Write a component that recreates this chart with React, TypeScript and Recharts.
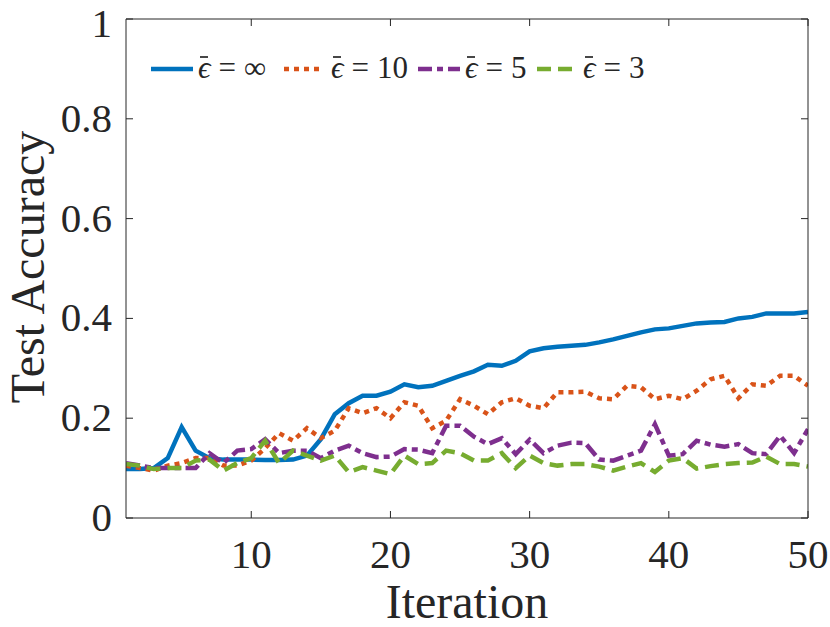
import React from 'react';
import { LineChart, Line, XAxis, YAxis } from 'recharts';

// iteration index 1..50
const iterations = Array.from({ length: 50 }, (_, i) => i + 1);

// eps = inf
const accInf = [
  0.098, 0.098, 0.1, 0.12, 0.182, 0.135, 0.12, 0.117, 0.117, 0.117,
  0.116, 0.116, 0.117, 0.125, 0.158, 0.208, 0.23, 0.245, 0.245, 0.253,
  0.268, 0.262, 0.265, 0.275, 0.285, 0.294, 0.307, 0.305, 0.315, 0.334,
  0.34, 0.343, 0.345, 0.347, 0.352, 0.358, 0.365, 0.372, 0.378, 0.38,
  0.385, 0.39, 0.392, 0.393, 0.4, 0.403, 0.41, 0.41, 0.41, 0.413,
];
// eps = 10
const acc10 = [
  0.105, 0.1, 0.095, 0.105, 0.11, 0.12, 0.12, 0.105, 0.105, 0.115,
  0.14, 0.17, 0.155, 0.18, 0.16, 0.175, 0.22, 0.21, 0.22, 0.2,
  0.232, 0.225, 0.18, 0.195, 0.238, 0.225, 0.208, 0.232, 0.24, 0.225,
  0.22, 0.252, 0.252, 0.253, 0.24, 0.238, 0.265, 0.262, 0.238, 0.245,
  0.238, 0.255, 0.278, 0.285, 0.24, 0.268, 0.265, 0.285, 0.285, 0.265,
];
// eps = 5
const acc5 = [
  0.11, 0.105, 0.1, 0.1, 0.1, 0.1, 0.13, 0.11, 0.135, 0.138,
  0.158, 0.13, 0.135, 0.135, 0.12, 0.135, 0.145, 0.13, 0.122, 0.123,
  0.138, 0.137, 0.13, 0.185, 0.185, 0.163, 0.148, 0.16, 0.128, 0.157,
  0.13, 0.145, 0.151, 0.15, 0.117, 0.115, 0.125, 0.135, 0.188, 0.125,
  0.128, 0.155, 0.147, 0.143, 0.148, 0.13, 0.128, 0.165, 0.13, 0.178,
];
// eps = 3
const acc3 = [
  0.108, 0.105, 0.098, 0.1, 0.1, 0.115, 0.117, 0.095, 0.11, 0.12,
  0.155, 0.11, 0.135, 0.125, 0.115, 0.125, 0.092, 0.102, 0.095, 0.088,
  0.125, 0.108, 0.11, 0.135, 0.13, 0.115, 0.115, 0.13, 0.1, 0.125,
  0.11, 0.105, 0.108, 0.108, 0.103, 0.095, 0.103, 0.11, 0.092, 0.115,
  0.12, 0.099, 0.104, 0.108, 0.11, 0.111, 0.123, 0.108, 0.108, 0.103,
];

const xTicks = [10, 20, 30, 40, 50];
const yTicks = [0, 0.2, 0.4, 0.6, 0.8, 1];
const seriesLabels = ['∞', '10', '5', '3'];

const data = iterations.map((it, i) => ({
  iter: it,
  inf: accInf[i],
  e10: acc10[i],
  e5: acc5[i],
  e3: acc3[i],
}));

const AXIS = '#262626';
const FONT = "'Liberation Serif', 'DejaVu Serif', serif";

const series = [
  { key: 'inf', color: '#0072BD', dash: undefined },
  { key: 'e10', color: '#D95319', dash: '5 5' },
  { key: 'e5', color: '#7E2F8E', dash: '14 5 6 5' },
  { key: 'e3', color: '#77AC30', dash: '14 7' },
];

const LeftTick = (props: any) => {
  const { x, y, payload } = props;
  // keep the top label inside the picture
  const baseline = Math.max(y + 13, 37);
  return (
    <g>
      <line x1={x} x2={x + 7} y1={y} y2={y} stroke={AXIS} strokeWidth={1} />
      <text x={x - 14} y={baseline} textAnchor="end" fontFamily={FONT} fontSize={41} fill={AXIS}>
        {String(payload.value)}
      </text>
    </g>
  );
};

const RightTick = (props: any) => {
  const { x, y } = props;
  return <line x1={x} x2={x - 7} y1={y} y2={y} stroke={AXIS} strokeWidth={1} />;
};

const BottomTick = (props: any) => {
  const { x, y, payload } = props;
  return (
    <g>
      <line x1={x} x2={x} y1={y} y2={y - 7} stroke={AXIS} strokeWidth={1} />
      <text x={x} y={y + 50} textAnchor="middle" fontFamily={FONT} fontSize={41} fill={AXIS}>
        {String(payload.value)}
      </text>
    </g>
  );
};

const TopTick = (props: any) => {
  const { x, y } = props;
  return <line x1={x} x2={x} y1={y} y2={y + 7} stroke={AXIS} strokeWidth={1} />;
};

// legend sample positions
const legendItems = [
  { x1: 151, x2: 193, tx: 198 },
  { x1: 284, x2: 323, tx: 331 },
  { x1: 418, x2: 460, tx: 465 },
  { x1: 537, x2: 578, tx: 583 },
];

const LegendOverlay = () => (
  <svg width={830} height={627} style={{ position: 'absolute', left: 0, top: 0, pointerEvents: 'none' }}>
    {legendItems.map((it, i) => (
      <g key={seriesLabels[i]}>
        <line
          x1={it.x1}
          x2={it.x2}
          y1={69}
          y2={69}
          stroke={series[i].color}
          strokeWidth={4.5}
          strokeDasharray={series[i].dash}
        />
        <line x1={it.tx + 2} x2={it.tx + 10} y1={57} y2={57} stroke={AXIS} strokeWidth={1.7} />
        <text x={it.tx} y={78} fontFamily={FONT} fontSize={31} fill={AXIS}>
          <tspan fontStyle="italic">ϵ</tspan>
          <tspan dx={8}>=</tspan>
          <tspan dx={8}>{seriesLabels[i]}</tspan>
        </text>
      </g>
    ))}
  </svg>
);

export default function App() {
  return (
    <div style={{ position: 'absolute', left: 0, top: 0, width: 830, height: 627, background: '#fff' }}>
      <LineChart width={830} height={627} data={data} margin={{ top: 0, right: 0, left: 0, bottom: 0 }}>
        <XAxis
          dataKey="iter"
          type="number"
          domain={[1, 50]}
          ticks={xTicks}
          height={109}
          tickSize={0}
          tickMargin={0}
          tick={<BottomTick />}
          axisLine={{ stroke: AXIS, strokeWidth: 1 }}
          tickLine={false}
          allowDataOverflow
        />
        <XAxis
          xAxisId="top"
          orientation="top"
          dataKey="iter"
          type="number"
          domain={[1, 50]}
          ticks={xTicks}
          height={19}
          tickSize={0}
          tickMargin={0}
          tick={<TopTick />}
          axisLine={{ stroke: AXIS, strokeWidth: 1 }}
          tickLine={false}
          allowDataOverflow
        />
        <YAxis
          type="number"
          domain={[0, 1]}
          ticks={yTicks}
          width={126}
          tickSize={0}
          tickMargin={0}
          tick={<LeftTick />}
          axisLine={{ stroke: AXIS, strokeWidth: 1 }}
          tickLine={false}
          allowDataOverflow
        />
        <YAxis
          yAxisId="right"
          orientation="right"
          type="number"
          domain={[0, 1]}
          ticks={yTicks}
          width={22}
          tickSize={0}
          tickMargin={0}
          tick={<RightTick />}
          axisLine={{ stroke: AXIS, strokeWidth: 1 }}
          tickLine={false}
          allowDataOverflow
        />
        {series.map((s) => (
          <Line
            key={s.key}
            dataKey={s.key}
            type="linear"
            stroke={s.color}
            strokeWidth={4.5}
            strokeDasharray={s.dash}
            dot={false}
            activeDot={false}
            isAnimationActive={false}
          />
        ))}
        <text
          x={467}
          y={618}
          textAnchor="middle"
          fontFamily={FONT}
          fontSize={48}
          fill={AXIS}
        >
          Iteration
        </text>
        <text
          x={44}
          y={267}
          transform="rotate(-90 44 267)"
          textAnchor="middle"
          fontFamily={FONT}
          fontSize={48}
          fill={AXIS}
        >
          Test Accuracy
        </text>
      </LineChart>
      <LegendOverlay />
    </div>
  );
}
